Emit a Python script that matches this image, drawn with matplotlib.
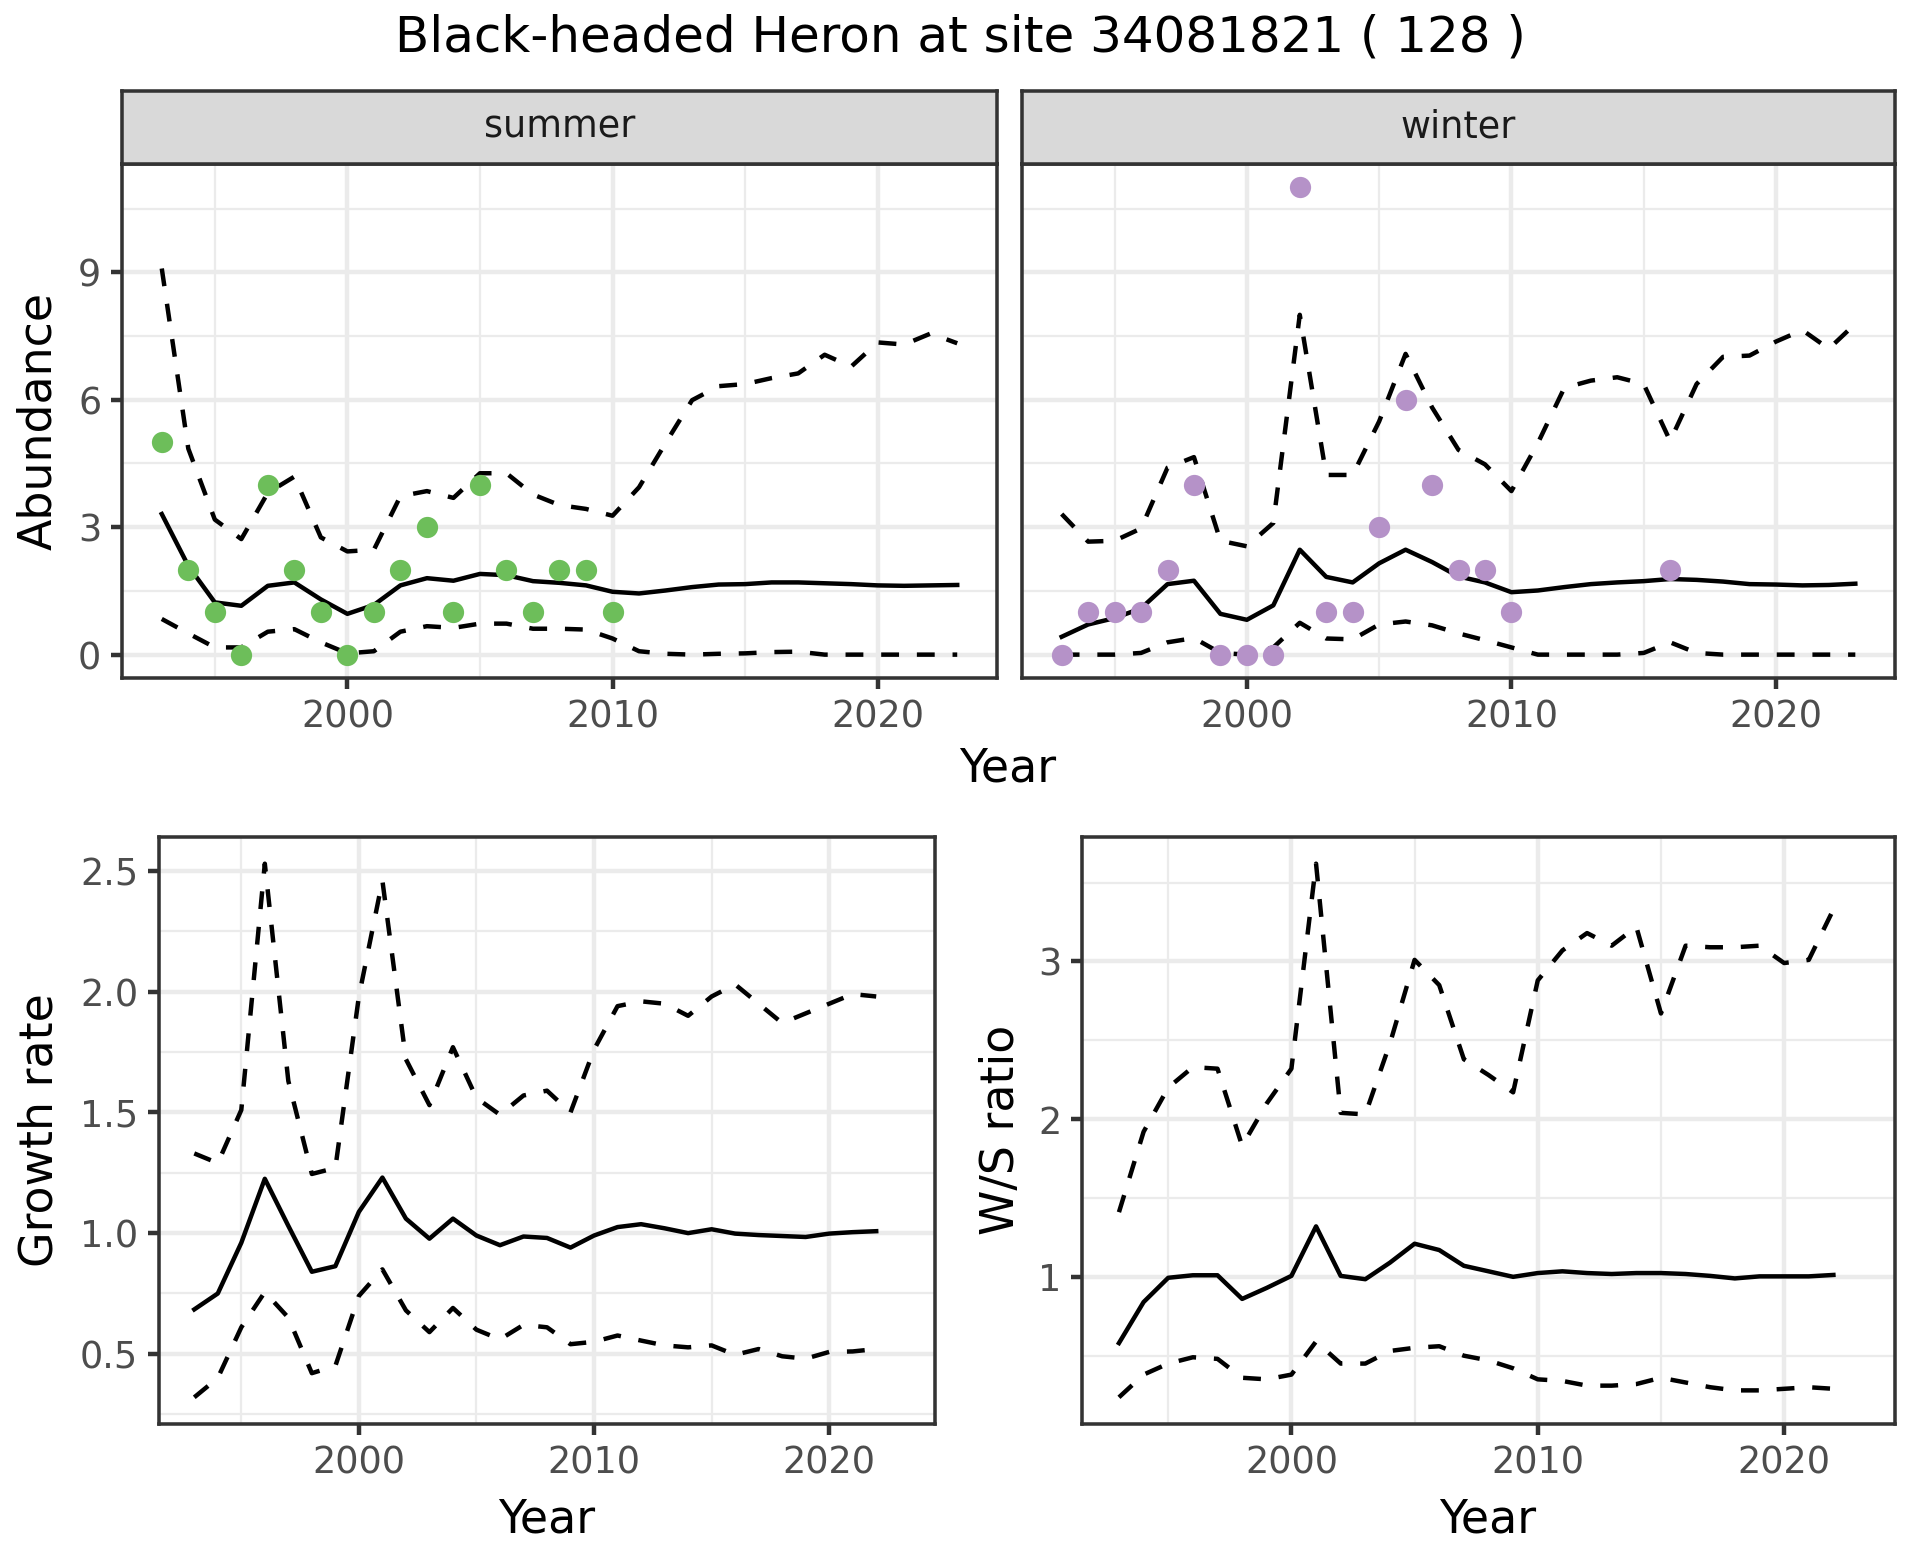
import matplotlib
matplotlib.use("Agg")
import matplotlib.pyplot as plt
import numpy as np

# data
years = [1993, 1994, 1995, 1996, 1997, 1998, 1999, 2000, 2001, 2002, 2003,
         2004, 2005, 2006, 2007, 2008, 2009, 2010, 2011, 2012, 2013, 2014,
         2015, 2016, 2017, 2018, 2019, 2020, 2021, 2022, 2023]

# summer abundance: fitted mean and interval
summer_mean = [3.31, 2.09, 1.23, 1.15, 1.62, 1.70, 1.30, 0.96, 1.17, 1.63, 1.80,
               1.74, 1.90, 1.87, 1.73, 1.69, 1.63, 1.48, 1.44, 1.51, 1.59, 1.65,
               1.66, 1.70, 1.70, 1.68, 1.66, 1.63, 1.62, 1.63, 1.64]
summer_upper = [9.09, 4.85, 3.18, 2.72, 3.81, 4.19, 2.76, 2.43, 2.47, 3.73, 3.85,
                3.69, 4.27, 4.27, 3.77, 3.52, 3.43, 3.27, 3.94, 4.98, 5.99, 6.32,
                6.37, 6.51, 6.62, 7.06, 6.78, 7.35, 7.30, 7.56, 7.33]
summer_lower = [0.84, 0.50, 0.17, 0.17, 0.54, 0.60, 0.29, 0.03, 0.08, 0.54, 0.67,
                0.63, 0.73, 0.73, 0.61, 0.61, 0.59, 0.38, 0.08, 0.02, 0.00, 0.02,
                0.03, 0.06, 0.07, 0.00, 0.00, 0.00, 0.00, 0.00, 0.00]
summer_obs_years = [1993, 1994, 1995, 1996, 1997, 1998, 1999, 2000, 2001,
                    2002, 2003, 2004, 2005, 2006, 2007, 2008, 2009, 2010]
summer_obs = [5, 2, 1, 0, 4, 2, 1, 0, 1, 2, 3, 1, 4, 2, 1, 2, 2, 1]

# winter abundance
winter_mean = [0.42, 0.71, 0.86, 1.09, 1.66, 1.74, 0.96, 0.82, 1.16, 2.47, 1.83,
               1.70, 2.15, 2.47, 2.18, 1.84, 1.70, 1.47, 1.51, 1.59, 1.66, 1.70,
               1.73, 1.78, 1.76, 1.72, 1.66, 1.65, 1.63, 1.64, 1.67]
winter_upper = [3.31, 2.66, 2.68, 2.97, 4.40, 4.65, 2.68, 2.55, 3.10, 8.00, 4.23,
                4.23, 5.49, 7.08, 5.82, 4.82, 4.48, 3.85, 4.98, 6.28, 6.45, 6.53,
                6.37, 5.03, 6.37, 7.01, 7.04, 7.37, 7.64, 7.20, 7.79]
winter_lower = [0.00, 0.00, 0.00, 0.04, 0.29, 0.39, 0.04, 0.00, 0.17, 0.75, 0.38,
                0.36, 0.71, 0.78, 0.69, 0.50, 0.34, 0.17, 0.00, 0.00, 0.00, 0.00,
                0.04, 0.29, 0.04, 0.00, 0.00, 0.00, 0.00, 0.00, 0.00]
winter_obs_years = [1993, 1994, 1995, 1996, 1997, 1998, 1999, 2000, 2001, 2002,
                    2003, 2004, 2005, 2006, 2007, 2008, 2009, 2010, 2016]
winter_obs = [0, 1, 1, 1, 2, 4, 0, 0, 0, 11, 1, 1, 3, 6, 4, 2, 2, 1, 2]

# growth rate and winter/summer ratio (1993-2022)
rate_years = years[:-1]
growth_mean = [0.684, 0.75, 0.96, 1.225, 1.03, 0.84, 0.863, 1.088, 1.23, 1.06,
               0.977, 1.06, 0.99, 0.95, 0.986, 0.98, 0.94, 0.99, 1.025, 1.037,
               1.02, 1.00, 1.016, 0.998, 0.992, 0.988, 0.984, 0.998, 1.004, 1.008]
growth_upper = [1.33, 1.29, 1.51, 2.53, 1.63, 1.245, 1.27, 1.98, 2.46, 1.72,
                1.53, 1.77, 1.56, 1.49, 1.57, 1.59, 1.50, 1.76, 1.94, 1.96,
                1.95, 1.90, 1.98, 2.03, 1.95, 1.87, 1.91, 1.95, 1.99, 1.98]
growth_lower = [0.32, 0.40, 0.61, 0.756, 0.65, 0.42, 0.45, 0.74, 0.85, 0.68,
                0.59, 0.69, 0.60, 0.56, 0.62, 0.61, 0.54, 0.55, 0.576, 0.555,
                0.535, 0.527, 0.535, 0.496, 0.52, 0.49, 0.48, 0.508, 0.51, 0.52]

ratio_mean = [0.58, 0.84, 0.994, 1.01, 1.01, 0.86, 0.93, 1.006, 1.32, 1.006,
              0.985, 1.09, 1.21, 1.17, 1.07, 1.035, 1.00, 1.024, 1.035, 1.024,
              1.018, 1.024, 1.024, 1.018, 1.006, 0.99, 1.003, 1.003, 1.003, 1.012]
ratio_upper = [1.41, 1.92, 2.20, 2.33, 2.32, 1.83, 2.10, 2.32, 3.62, 2.04,
               2.03, 2.48, 3.01, 2.85, 2.38, 2.28, 2.17, 2.88, 3.07, 3.18,
               3.10, 3.22, 2.67, 3.10, 3.09, 3.09, 3.10, 2.99, 3.01, 3.33]
ratio_lower = [0.236, 0.38, 0.45, 0.49, 0.48, 0.36, 0.35, 0.38, 0.59, 0.45,
               0.45, 0.53, 0.55, 0.56, 0.50, 0.47, 0.42, 0.35, 0.34, 0.31,
               0.31, 0.32, 0.36, 0.33, 0.30, 0.28, 0.28, 0.29, 0.30, 0.29]

W, H = 1920, 1560
LW = 1.07
BORDER = 0.85
GREEN = '#6DBE5A'
PURPLE = '#B592C8'

fig = plt.figure(figsize=(6.4, 5.2), dpi=300)
fig.patch.set_facecolor('white')


def px_axes(left, top, right, bottom):
    return fig.add_axes([left / W, 1 - bottom / H, (right - left) / W, (bottom - top) / H])


def expand(vals):
    lo, hi = min(vals), max(vals)
    pad = 0.05 * (hi - lo)
    return lo - pad, hi + pad


def style(ax, ymajor, yminor, ylim):
    ax.set_facecolor('white')
    for s in ax.spines.values():
        s.set_color('#333333')
        s.set_linewidth(BORDER)
        s.set_zorder(5)
    ax.set_xlim(1991.5, 2024.5)
    ax.set_ylim(*ylim)
    ax.set_xticks([2000, 2010, 2020])
    ax.set_xticks([1995, 2005, 2015], minor=True)
    ax.set_yticks(ymajor)
    ax.set_yticks(yminor, minor=True)
    ax.grid(which='major', color='#EBEBEB', linewidth=LW)
    ax.grid(which='minor', color='#EBEBEB', linewidth=LW / 2)
    ax.set_axisbelow(True)
    ax.tick_params(which='major', length=2.75, width=LW, color='#333333',
                   labelcolor='#4D4D4D', labelsize=8.8, pad=2.2)
    ax.tick_params(which='minor', length=0)


def draw_band(ax, x, mean, upper, lower):
    ax.plot(x, upper, color='black', lw=LW, linestyle=(0, (4, 4)))
    ax.plot(x, lower, color='black', lw=LW, linestyle=(0, (4, 4)))
    ax.plot(x, mean, color='black', lw=LW)


# ---- top row: abundance facets ----
ab_lim = expand([0] + summer_obs + winter_obs + summer_upper + winter_upper)
ab_major = [0, 3, 6, 9]
ab_minor = [1.5, 4.5, 7.5, 10.5]

ax_s = px_axes(122, 164, 997, 678)
style(ax_s, ab_major, ab_minor, ab_lim)
draw_band(ax_s, years, summer_mean, summer_upper, summer_lower)
ax_s.scatter(summer_obs_years, summer_obs, s=26, color=GREEN, zorder=4, linewidths=0)

ax_w = px_axes(1022, 164, 1895, 678)
style(ax_w, ab_major, ab_minor, ab_lim)
ax_w.tick_params(axis='y', which='both', length=0, labelleft=False)
draw_band(ax_w, years, winter_mean, winter_upper, winter_lower)
ax_w.scatter(winter_obs_years, winter_obs, s=26, color=PURPLE, zorder=4, linewidths=0)

for (l, r), name in [((122, 997), 'summer'), ((1022, 1895), 'winter')]:
    st = px_axes(l, 91, r, 164)
    st.set_facecolor('#D9D9D9')
    st.set_xticks([])
    st.set_yticks([])
    for s in st.spines.values():
        s.set_color('#333333')
        s.set_linewidth(BORDER)
    st.text(0.5, 0.5, name, ha='center', va='center', fontsize=8.8,
            color='#1A1A1A', transform=st.transAxes)

# ---- bottom row ----
ax_g = px_axes(159, 837, 935, 1424)
style(ax_g, [0.5, 1.0, 1.5, 2.0, 2.5], [0.25, 0.75, 1.25, 1.75, 2.25],
      expand(growth_upper + growth_lower))
ax_g.set_yticklabels(['0.5', '1.0', '1.5', '2.0', '2.5'])
draw_band(ax_g, rate_years, growth_mean, growth_upper, growth_lower)

ax_r = px_axes(1082, 837, 1895, 1424)
style(ax_r, [1, 2, 3], [0.5, 1.5, 2.5, 3.5], expand(ratio_upper + ratio_lower))
draw_band(ax_r, rate_years, ratio_mean, ratio_upper, ratio_lower)

# ---- titles and axis labels ----
fig.text(0.5, 1 - 37 / H, 'Black-headed Heron at site 34081821 ( 128 )',
         ha='center', va='center', fontsize=12)
fig.text(1008 / W, 1 - 769 / H, 'Year', ha='center', va='center', fontsize=11)
fig.text(547 / W, 1 - 1520 / H, 'Year', ha='center', va='center', fontsize=11)
fig.text(1488 / W, 1 - 1520 / H, 'Year', ha='center', va='center', fontsize=11)
fig.text(38.5 / W, 1 - 421 / H, 'Abundance', ha='center', va='center',
         rotation=90, fontsize=11)
fig.text(40 / W, 1 - 1130 / H, 'Growth rate', ha='center', va='center',
         rotation=90, fontsize=11)
fig.text(1001 / W, 1 - 1130 / H, 'W/S ratio', ha='center', va='center',
         rotation=90, fontsize=11)

fig.savefig('out.png', dpi=300)
